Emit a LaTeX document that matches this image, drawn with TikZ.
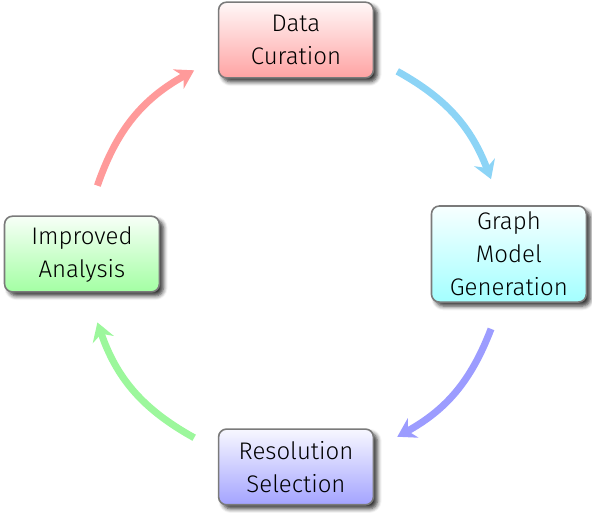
\documentclass[tikz,border=0pt]{standalone}
\usepackage{fontspec}
\setmainfont{Fira Sans}[UprightFont=* Light]
\usepackage{xcolor}
\usetikzlibrary{arrows.meta,shadows.blur}
\definecolor{edge}{HTML}{7A7A7A}
\definecolor{redarr}{HTML}{FF9A9A}
\definecolor{skyarr}{HTML}{8CD4F6}
\definecolor{bluearr}{HTML}{9C9CFF}
\definecolor{greenarr}{HTML}{9CF79C}
\tikzset{
  box/.style={draw=edge, line width=0.8pt, rounded corners=4pt, align=center,
    minimum width=2.72cm, minimum height=1.33cm, inner sep=3pt,
    font=\fontsize{12}{16.5}\selectfont,
    blur shadow={shadow xshift=2pt, shadow yshift=-2pt, shadow blur steps=5, shadow opacity=80}},
  flow/.style={line width=3.5pt, -{Stealth[length=9pt,width=11pt,inset=3pt]}},
}

\begin{document}
\begin{tikzpicture}
  \useasboundingbox (-5.20,-4.551) rectangle (5.20,4.463);
  % the four stages
  \node[box, top color=red!3, bottom color=red!36] (curation) at (90:3.76) {Data\\Curation};
  \node[box, top color=cyan!3, bottom color=cyan!36] (graph) at (0:3.74) {Graph\\Model\\Generation};
  \node[box, top color=blue!3, bottom color=blue!36] (resolution) at (-90:3.74) {Resolution\\Selection};
  \node[box, top color=green!3, bottom color=green!36] (analysis) at (180:3.76) {Improved\\Analysis};
  % arc ends
  \coordinate (r1) at (161:3.69);
  \coordinate (r2) at (119:3.69);
  \coordinate (b1) at (61:3.67);
  \coordinate (b2) at (21:3.67);
  \coordinate (p1) at (-21:3.67);
  \coordinate (p2) at (-61:3.67);
  \coordinate (g1) at (-119:3.69);
  \coordinate (g2) at (-161:3.69);
  \draw[flow, draw=redarr, color=redarr] (r1) to[bend left=21] (r2);
  \draw[flow, draw=skyarr, color=skyarr] (b1) to[bend left=20] (b2);
  \draw[flow, draw=bluearr, color=bluearr] (p1) to[bend left=20] (p2);
  \draw[flow, draw=greenarr, color=greenarr] (g1) to[bend left=21] (g2);
\end{tikzpicture}
\end{document}
